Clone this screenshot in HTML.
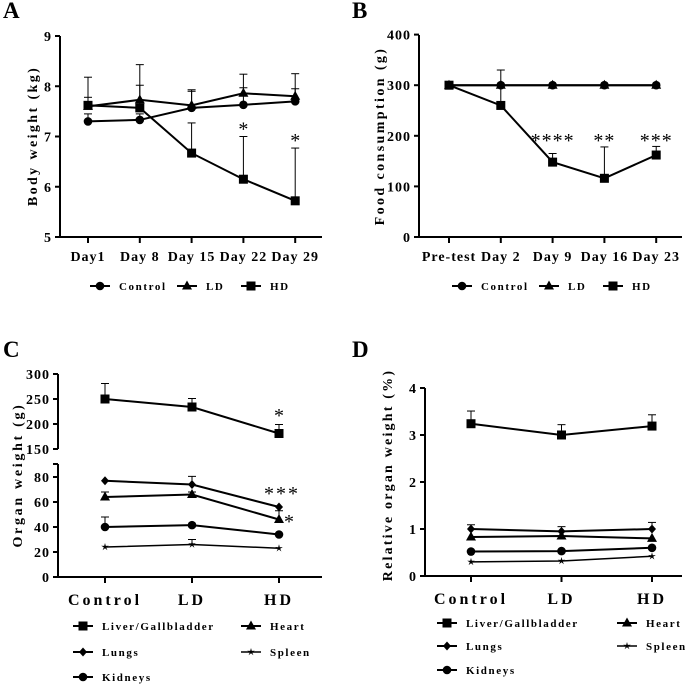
<!DOCTYPE html>
<html><head><meta charset="utf-8"><style>
body{margin:0;background:#fff;}
svg{display:block;font-family:"Liberation Serif",serif;font-weight:bold;}
</style></head><body>
<svg id="s" width="700" height="691" viewBox="0 0 700 691" xmlns="http://www.w3.org/2000/svg"></svg>
<script>
// Panel A data
const aCats=["Day1","Day 8","Day 15","Day 22","Day 29"];
const aTicks=[5,6,7,8,9];
const aControl=[7.3,7.33,7.57,7.63,7.7];
const aControlErr=[7.45,7.45,7.9,7.97,7.95];
const aLD=[7.6,7.73,7.62,7.86,7.8];
const aLDErr=[7.78,8.02,7.93,8.24,8.25];
const aHD=[7.62,7.57,6.67,6.15,5.72];
const aHDErr=[8.18,8.43,7.27,7.0,6.77];
const aStars=["","","","*","*"];
// Panel B data
const bCats=["Pre-test","Day 2","Day 9","Day 16","Day 23"];
const bTicks=[0,100,200,300,400];
const bControl=[300,300,300,300,300];
const bLD=[300,300,300,300,300];
const bHD=[300,260,148,116,162];
const bHDErr=[300,330,165,178,179];
const bStars=["","","****","**","***"];
// Panel C data
const cCats=["Control","LD","HD"];
const cTicksUpper=[150,200,250,300];
const cTicksLower=[0,20,40,60,80];
const cLiver=[250,234,181];
const cLiverErr=[281,251,199];
const cLungs=[77,74,56];
const cLungsErr=[77,80.5,56];
const cHeart=[64,66,46];
const cHeartErr=[68,68,53];
const cKidneys=[40,41.5,34];
const cKidneysErr=[48,41.5,34];
const cSpleen=[24,26,23];
const cSpleenErr=[24,30,23];
// Panel D data
const dCats=["Control","LD","HD"];
const dTicks=[0,1,2,3,4];
const dLiver=[3.24,3.0,3.19];
const dLiverErr=[3.51,3.22,3.43];
const dLungs=[1.0,0.95,1.0];
const dLungsErr=[1.09,1.05,1.14];
const dHeart=[0.83,0.85,0.8];
const dKidneys=[0.52,0.53,0.6];
const dSpleen=[0.3,0.32,0.42];

const NS="http://www.w3.org/2000/svg";
const svg=document.getElementById('s');
function mk(tag,attrs,parent,text){const e=document.createElementNS(NS,tag);for(const k in attrs)e.setAttribute(k,attrs[k]);if(text!==undefined)e.textContent=text;(parent||svg).appendChild(e);return e;}
function grp(name){const g=mk('g',{});return g;}
function marker(g,type,x,y){
  let e;
  if(type==='circle')e=mk('circle',{cx:x,cy:y,r:4.3,fill:'#000'},g);
  else if(type==='square')e=mk('rect',{x:x-4.5,y:y-4.5,width:9,height:9,fill:'#000'},g);
  else if(type==='triangle')e=mk('polygon',{points:`${x},${y-5.5} ${x+5},${y+3.5} ${x-5},${y+3.5}`,fill:'#000'},g);
  else if(type==='diamond')e=mk('polygon',{points:`${x},${y-4.5} ${x+4},${y} ${x},${y+4.5} ${x-4},${y}`,fill:'#000'},g);
  else{let p=[];for(let i=0;i<10;i++){const r=i%2?1.3:4;const a=-Math.PI/2+i*Math.PI/5;p.push((x+r*Math.cos(a)).toFixed(1)+','+(y+r*Math.sin(a)).toFixed(1));}e=mk('polygon',{points:p.join(' '),fill:'#000'},g);}
  
  
}
function series(name,xs,vals,errs,yf,type,sw){
  const g=grp(name);
  if(errs)vals.forEach((v,i)=>{if(errs[i]>v){const x=xs(i),y1=yf(v),y2=yf(errs[i]);mk('line',{x1:x,x2:x,y1:y1,y2:y2,stroke:'#000','stroke-width':1},g);mk('line',{x1:x-4,x2:x+4,y1:y2,y2:y2,stroke:'#000','stroke-width':1},g);}});
  const pts=vals.map((v,i)=>xs(i)+','+yf(v)).join(' ');
  const pl=mk('polyline',{points:pts,fill:'none',stroke:'#000','stroke-width':sw||2},g);
  
  
  vals.forEach((v,i)=>marker(g,type,xs(i),yf(v)));
}
function yAxis(g,x,ticks,yf,y0,y1){
  mk('line',{x1:x,x2:x,y1:y0,y2:y1,stroke:'#000','stroke-width':2},g);
  ticks.forEach(t=>{const y=yf(t);mk('line',{x1:x-5,x2:x,y1:y,y2:y,stroke:'#000','stroke-width':2},g);mk('text',{x:x-8,y:y+5,'font-size':14,'text-anchor':'end','letter-spacing':1},g,t);});
}
function xAxis(g,x0,x1,y,cats,xs,fs,ls){
  mk('line',{x1:x0,x2:x1,y1:y,y2:y,stroke:'#000','stroke-width':2},g);
  cats.forEach((c,i)=>{const x=xs(i);mk('line',{x1:x,x2:x,y1:y,y2:y+6,stroke:'#000','stroke-width':2},g);mk('text',{x:x,y:y+(fs>14?28:24),'font-size':fs,'text-anchor':'middle','letter-spacing':ls},g,c);});
}
function legendItem(g,type,x,y,label,thin){
  mk('line',{x1:x,x2:x+20,y1:y,y2:y,stroke:'#000','stroke-width':thin?1.5:2},g);
  marker(g,type,x+10,y);
  mk('text',{x:x+29,y:y+4,'font-size':11,'letter-spacing':1.6},g,label);
}
function panelLetter(l,x,y){const t=mk('text',{x:x,y:y,'font-size':23},svg,l);}
function yTitle(g,x,y,txt,ls){mk('text',{x:0,y:0,'font-size':14,'text-anchor':'middle','letter-spacing':ls,transform:`translate(${x},${y}) rotate(-90)`},g,txt);}

// ---------- Panel A
panelLetter('A',3,18);
{
 const xs=i=>88+i*51.8, yf=v=>237-(v-5)*50.25;
 const ax=grp('panel-a-axes');
 yAxis(ax,60,aTicks,yf,36,237);
 xAxis(ax,60,322,237,aCats,xs,14,1);
 yTitle(ax,37,136,'Body weight (kg)',2.4);
 series('a-control',xs,aControl,aControlErr,yf,'circle');
 series('a-ld',xs,aLD,aLDErr,yf,'triangle');
 series('a-hd',xs,aHD,aHDErr,yf,'square');
 const sg=grp('a-significance');
 aStars.forEach((s,i)=>{if(s)mk('text',{x:xs(i),y:yf(aHDErr[i])-1,'font-size':20,'font-weight':'normal','text-anchor':'middle'},sg,s);});
 const lg=grp('a-legend');
 legendItem(lg,'circle',90,286,'Control');legendItem(lg,'triangle',177,286,'LD');legendItem(lg,'square',241,286,'HD');
}
// ---------- Panel B
panelLetter('B',352,18);
{
 const xs=i=>449+i*51.8, yf=v=>237-v*0.506;
 const ax=grp('panel-b-axes');
 yAxis(ax,419,bTicks,yf,35,237);
 xAxis(ax,419,682,237,bCats,xs,14,1);
 yTitle(ax,384,136,'Food consumption (g)',2.4);
 series('b-control',xs,bControl,null,yf,'circle');
 series('b-ld',xs,bLD,null,yf,'triangle');
 series('b-hd',xs,bHD,bHDErr,yf,'square');
 const sg=grp('b-significance');
 bStars.forEach((s,i)=>{if(s)mk('text',{x:xs(i),y:147,'font-size':20,'font-weight':'normal','text-anchor':'middle','letter-spacing':1},sg,s);});
 const lg=grp('b-legend');
 legendItem(lg,'circle',452,286,'Control');legendItem(lg,'triangle',539,286,'LD');legendItem(lg,'square',603,286,'HD');
}
// ---------- Panel C
panelLetter('C',3,357);
{
 const xs=i=>105+i*87;
 const yf=v=>v>=120?449-(v-150)*0.5:577-v*1.25;
 const ax=grp('panel-c-axes');
 mk('line',{x1:58,x2:58,y1:374,y2:449,stroke:'#000','stroke-width':2},ax);
 cTicksUpper.forEach(t=>{const y=yf(t);mk('line',{x1:53,x2:58,y1:y,y2:y,stroke:'#000','stroke-width':2},ax);mk('text',{x:50,y:y+5,'font-size':14,'text-anchor':'end','letter-spacing':1},ax,t);});
 yAxis(ax,58,cTicksLower,yf,464,577);
 mk('line',{x1:53,x2:58,y1:464,y2:464,stroke:'#000','stroke-width':2},ax);
 xAxis(ax,58,322,577,cCats,xs,16,3);
 yTitle(ax,22,475,'Organ weight (g)',2.7);
 series('c-liver',xs,cLiver,cLiverErr,yf,'square');
 series('c-lungs',xs,cLungs,cLungsErr,yf,'diamond');
 series('c-heart',xs,cHeart,cHeartErr,yf,'triangle');
 series('c-kidneys',xs,cKidneys,cKidneysErr,yf,'circle');
 series('c-spleen',xs,cSpleen,cSpleenErr,yf,'star',1.5);
 const sg=grp('c-significance');
 mk('text',{x:279,y:422,'font-size':20,'font-weight':'normal','text-anchor':'middle'},sg,'*');
 mk('text',{x:282,y:500,'font-size':20,'font-weight':'normal','text-anchor':'middle','letter-spacing':2},sg,'***');
 mk('text',{x:289,y:528,'font-size':20,'font-weight':'normal','text-anchor':'middle'},sg,'*');
 const lg=grp('c-legend');
 legendItem(lg,'square',73,626,'Liver/Gallbladder');legendItem(lg,'triangle',241,626,'Heart');
 legendItem(lg,'diamond',73,652,'Lungs');legendItem(lg,'star',241,652,'Spleen',true);
 legendItem(lg,'circle',73,677,'Kidneys');
}
// ---------- Panel D
panelLetter('D',352,357);
{
 const xs=i=>471+i*90.5, yf=v=>576-v*47;
 const ax=grp('panel-d-axes');
 yAxis(ax,425,dTicks,yf,388,576);
 xAxis(ax,425,682,576,dCats,xs,16,3);
 yTitle(ax,392,475,'Relative organ weight (%)',2.2);
 series('d-liver',xs,dLiver,dLiverErr,yf,'square');
 series('d-lungs',xs,dLungs,dLungsErr,yf,'diamond');
 series('d-heart',xs,dHeart,null,yf,'triangle');
 series('d-kidneys',xs,dKidneys,null,yf,'circle');
 series('d-spleen',xs,dSpleen,null,yf,'star',1.5);
 const lg=grp('d-legend');
 legendItem(lg,'square',437,623,'Liver/Gallbladder');legendItem(lg,'triangle',617,623,'Heart');
 legendItem(lg,'diamond',437,646,'Lungs');legendItem(lg,'star',617,646,'Spleen',true);
 legendItem(lg,'circle',437,670,'Kidneys');
}
</script>
</body></html>
